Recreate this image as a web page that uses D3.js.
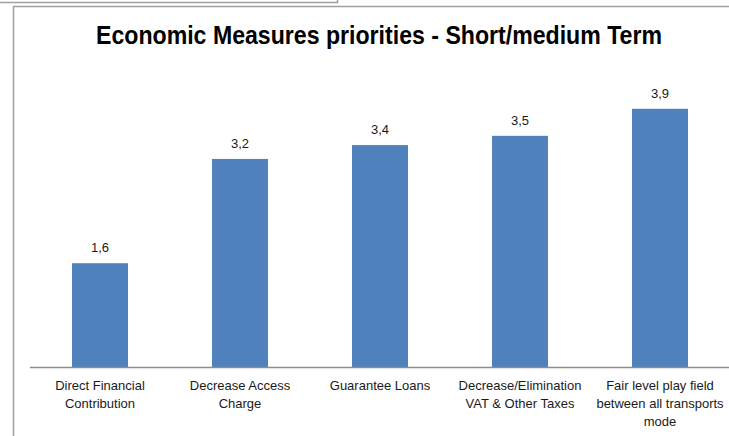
<!DOCTYPE html>
<html>
<head>
<meta charset="utf-8">
<script src="https://cdn.jsdelivr.net/npm/d3@7"></script>
<style>
  html, body { margin: 0; padding: 0; background: #fff; }
  svg { display: block; }
</style>
</head>
<body>
<svg id="chart" width="729" height="436"></svg>
<script>
const categories = [
  ["Direct Financial", "Contribution"],
  ["Decrease Access", "Charge"],
  ["Guarantee Loans"],
  ["Decrease/Elimination", "VAT & Other Taxes"],
  ["Fair level play field", "between all transports", "mode"]
];
const values = [1.58, 3.16, 3.37, 3.51, 3.92];
const valueLabels = ["1,6", "3,2", "3,4", "3,5", "3,9"];
const title = "Economic Measures priorities - Short/medium Term";

const svg = d3.select("#chart");
const W = 729, H = 436;

// outer frame lines
svg.append("path")
  .attr("d", "M0,2.5H337.5V0")
  .attr("fill", "none").attr("stroke", "#a0a0a0").attr("stroke-width", 1.5);
svg.append("path")
  .attr("d", `M13.5,${H}V6.5H${W}`)
  .attr("fill", "none").attr("stroke", "#a0a0a0").attr("stroke-width", 1.5);

const x = d3.scaleBand()
  .domain(d3.range(values.length))
  .range([30, 730])
  .paddingInner(0.6)
  .paddingOuter(0.3);

const y = d3.scaleLinear().domain([0, 5]).range([367.5, 37.5]);

// title
svg.append("text")
  .attr("x", 379).attr("y", 44)
  .attr("text-anchor", "middle")
  .attr("font-family", "'Liberation Sans Narrow', 'Arial Narrow', 'Liberation Sans', Arial, sans-serif")
  .attr("font-weight", "bold")
  .attr("font-size", 25)
  .attr("fill", "#000")
  .attr("textLength", 566)
  .attr("lengthAdjust", "spacingAndGlyphs")
  .text(title);

// bars
svg.append("g").selectAll("rect")
  .data(values)
  .join("rect")
  .attr("x", (d, i) => x(i))
  .attr("width", x.bandwidth())
  .attr("y", d => y(d))
  .attr("height", d => y(0) - y(d))
  .attr("fill", "#4F81BD");

// value labels
svg.append("g").selectAll("text")
  .data(values)
  .join("text")
  .attr("x", (d, i) => x(i) + x.bandwidth() / 2)
  .attr("y", d => y(d) - 11)
  .attr("text-anchor", "middle")
  .attr("font-family", "'Liberation Sans', Arial, sans-serif")
  .attr("font-size", 13)
  .attr("fill", "#1a1a1a")
  .text((d, i) => valueLabels[i]);

// x axis
const axis = d3.axisBottom(x).tickSize(0).tickFormat("");
const gx = svg.append("g").attr("transform", `translate(0,${y(0)})`).call(axis);
gx.select(".domain").attr("stroke", "#8c8c8c").attr("stroke-width", 1.5)
  .attr("d", "M30,0H729");

// category labels
const lab = svg.append("g").selectAll("text")
  .data(categories)
  .join("text")
  .attr("x", (d, i) => x(i) + x.bandwidth() / 2)
  .attr("y", 390)
  .attr("text-anchor", "middle")
  .attr("font-family", "'Liberation Sans Narrow', 'Arial Narrow', 'Liberation Sans', Arial, sans-serif")
  .attr("font-size", 13)
  .attr("fill", "#1a1a1a");
lab.selectAll("tspan")
  .data(d => d)
  .join("tspan")
  .attr("x", function() { return d3.select(this.parentNode).attr("x"); })
  .attr("dy", (d, i) => i === 0 ? 0 : 18)
  .text(d => d);
</script>
</body>
</html>
